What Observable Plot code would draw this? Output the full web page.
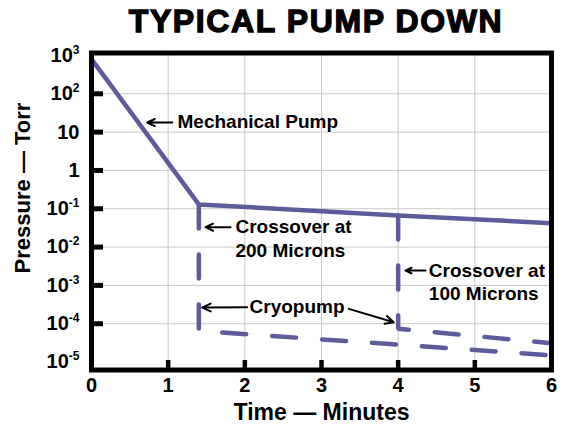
<!DOCTYPE html>
<html><head><meta charset="utf-8">
<script src="https://cdn.jsdelivr.net/npm/d3@7"></script>
<script src="https://cdn.jsdelivr.net/npm/@observablehq/plot@0.6"></script>
<style>
html,body{margin:0;padding:0;background:#fff;overflow:hidden}
#wrap{position:relative;width:564px;height:429px;font-family:"Liberation Sans",Arial,Helvetica,sans-serif}
#title{position:absolute;left:68px;width:496px;top:5px;height:35px;text-align:center;font-size:32px;line-height:32px;font-weight:bold;letter-spacing:1.6px;-webkit-text-stroke:1.3px #000;color:#000;white-space:nowrap}
#chart{position:absolute;left:0;top:40px}
</style></head><body>
<div id="wrap"><div id="title">TYPICAL PUMP DOWN</div><div id="chart"></div></div>
<script>
// Mechanical pump curve
const mechTime = [0, 1.4, 4, 6];
const mechPressure = [800, 0.13, 0.067, 0.042];
// Cryopump after crossover at 200 microns
const cryo200Time = [1.4, 1.4, 6];
const cryo200Pressure = [0.13, 6.5e-5, 1.5e-5];
// Cryopump after crossover at 100 microns
const cryo100Time = [4, 4, 6];
const cryo100Pressure = [0.067, 7.4e-5, 3.1e-5];

const xTicks = [0, 1, 2, 3, 4, 5, 6];
const innerXTicks = [1, 2, 3, 4, 5];
const yTicks = [1e-5, 1e-4, 1e-3, 1e-2, 1e-1, 1, 10, 1e2, 1e3];
const yTickLabels = ["10^-5", "10^-4", "10^-3", "10^-2", "10^-1", "1", "10", "10^2", "10^3"];
const innerYTicks = [1e-4, 1e-3, 1e-2, 1e-1, 1, 10, 1e2];
const yDomain = [6.2e-6, 1160];

const noteText = ["Mechanical Pump", "Crossover at", "200 Microns", "Crossover at", "100 Microns", "Cryopump"];
const noteTime = [1.122, 1.878, 1.878, 4.4, 4.4, 2.061];
const notePressure = [18.2, 0.033, 0.0081, 0.00244, 0.000614, 0.000281];

const arrowTailTime = [1.053, 1.813, 4.357, 2.031, 3.356];
const arrowTailPressure = [17.8, 0.033, 0.00244, 0.000269, 0.000244];
const arrowTipTime = [0.727, 1.487, 4.096, 1.444, 3.943];
const arrowTipPressure = [17.8, 0.033, 0.00244, 0.000264, 0.000109];

const lineColor = "#5d5b9b";
const font = "'Liberation Sans', Arial, Helvetica, sans-serif";

const zip = (xs, ys) => xs.map((x, i) => ({x, y: ys[i]}));
const mech = zip(mechTime, mechPressure);
const cryo200 = zip(cryo200Time, cryo200Pressure);
const cryo100 = zip(cryo100Time, cryo100Pressure);
const notes = noteText.map((t, i) => ({t, x: noteTime[i], y: notePressure[i]}));
const arrows = arrowTailTime.map((x1, i) => ({x1, y1: arrowTailPressure[i], x2: arrowTipTime[i], y2: arrowTipPressure[i]}));

const chart = Plot.plot({
  width: 564, height: 389,
  marginTop: 12.5, marginBottom: 59.5, marginLeft: 91, marginRight: 13,
  style: {fontFamily: font, background: "white", color: "black"},
  x: {domain: [0, 6]},
  y: {type: "log", domain: yDomain},
  marks: [
    Plot.gridX(innerXTicks, {stroke: "#c9c9c9", strokeOpacity: 1, strokeWidth: 1}),
    Plot.gridY(innerYTicks, {stroke: "#c9c9c9", strokeOpacity: 1, strokeWidth: 1}),
    Plot.line(mech, {x: "x", y: "y", stroke: lineColor, strokeWidth: 4.5, clip: true}),
    Plot.line(cryo200, {x: "x", y: "y", stroke: lineColor, strokeWidth: 4.5, strokeDasharray: "24,26", strokeLinejoin: "miter", clip: true}),
    Plot.line(cryo100, {x: "x", y: "y", stroke: lineColor, strokeWidth: 4.5, strokeDasharray: "24,26", strokeLinejoin: "miter", clip: true}),
    Plot.arrow(arrows, {x1: "x1", y1: "y1", x2: "x2", y2: "y2", stroke: "black", strokeWidth: 2, headLength: 7, headAngle: 50}),
    Plot.text(notes, {x: "x", y: "y", text: "t", textAnchor: "start", lineAnchor: "middle", fontSize: 19, fontWeight: "bold", fill: "black"}),
    Plot.axisX(innerXTicks, {tickSize: -9.5, strokeWidth: 4.5, text: null, label: null}),
    Plot.axisX(xTicks, {tickSize: 0, tickPadding: 8, fontSize: 20, fontWeight: "bold", label: null}),
    Plot.axisY(innerYTicks, {tickSize: -12, strokeWidth: 5, text: null, label: null}),
    Plot.axisY(yTicks, {tickSize: 0, tickPadding: 12, tickFormat: d => yTickLabels[yTicks.indexOf(d)], fontSize: 20, fontWeight: "bold", label: null}),
    Plot.frame({stroke: "black", strokeWidth: 5}),
    Plot.text(["Time — Minutes"], {text: d => d, frameAnchor: "bottom", dy: 42.5, textAnchor: "middle", lineAnchor: "middle", fontSize: 23, fontWeight: "bold", fill: "black"}),
    Plot.text(["Pressure — Torr"], {text: d => d, frameAnchor: "left", dx: -69, dy: -23.5, rotate: -90, textAnchor: "middle", lineAnchor: "middle", fontSize: 22, fontWeight: "bold", fill: "black"})
  ]
});

// superscript exponents in y tick labels
const NS = "http://www.w3.org/2000/svg";
chart.querySelectorAll('g[aria-label="y-axis tick label"] text').forEach(t => {
  const s = t.textContent;
  if (!s.includes("^")) return;
  const [base, exp] = s.split("^");
  t.textContent = base;
  const ts = document.createElementNS(NS, "tspan");
  ts.setAttribute("dy", "-8");
  ts.setAttribute("font-size", "12");
  ts.textContent = exp;
  t.appendChild(ts);
});
document.getElementById("chart").appendChild(chart);
</script>
</body></html>
